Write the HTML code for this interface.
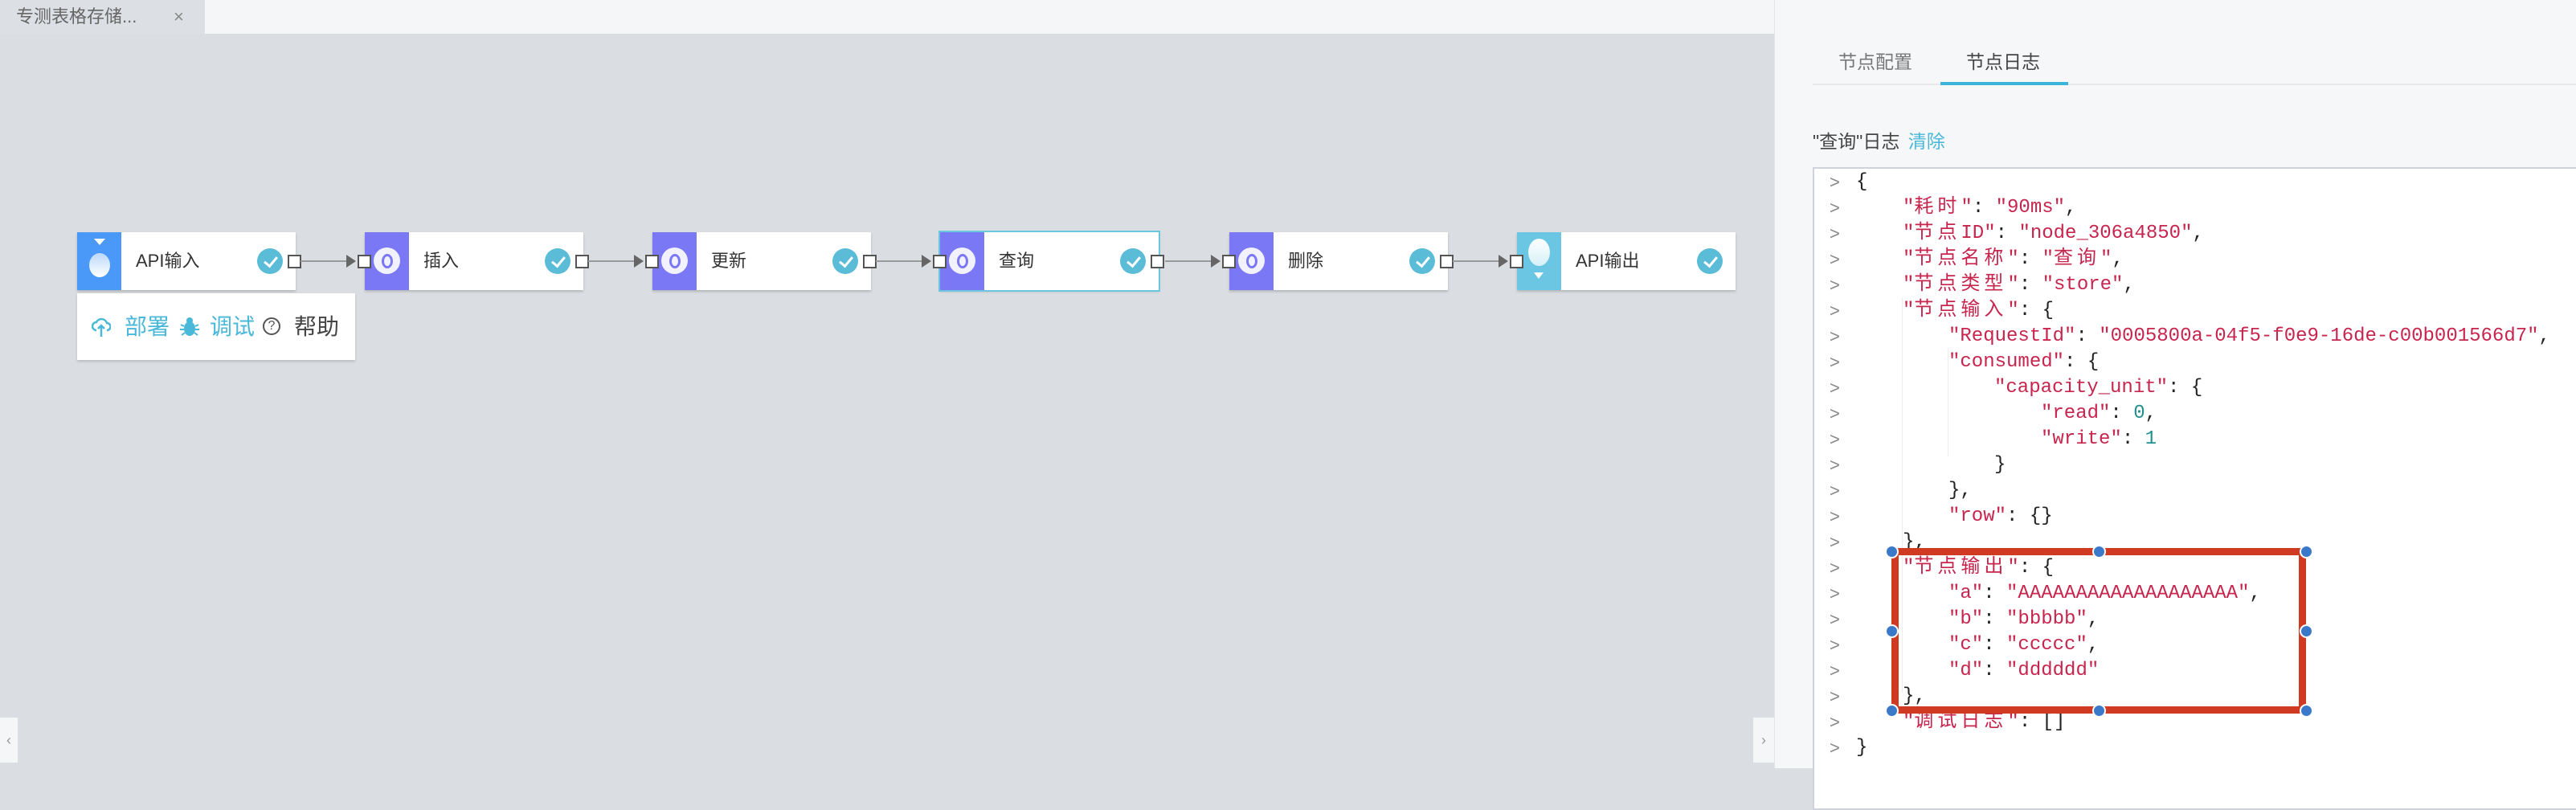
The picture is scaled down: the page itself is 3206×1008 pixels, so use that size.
<!DOCTYPE html>
<html><head><meta charset="utf-8">
<style>
*{margin:0;padding:0;box-sizing:border-box}
body{width:3206px;height:956px;overflow:hidden;background:#dadde1;font-family:"Liberation Sans","Noto Sans CJK SC",sans-serif;position:relative}
.abs{position:absolute}
.node{position:absolute;top:289px;width:272px;height:72px;background:#fff;box-shadow:0 2px 3px rgba(0,0,0,.18)}
.strip{position:absolute;left:0;top:0;width:55px;height:72px;background:#7a78f5}
.ring{position:absolute;left:11px;top:19px;width:33px;height:33px;border-radius:50%;background:#f2f2ff}
.ring:after{content:"";position:absolute;left:10px;top:8px;width:8px;height:12px;border:3px solid #7a78f5;border-radius:50%}
.lbl{position:absolute;left:73px;top:0;line-height:72px;font-size:22px;color:#333}
.chk{position:absolute;left:224px;top:20px;width:32px;height:32px;border-radius:50%;background:#5bbcd8}
.chk:after{content:"";position:absolute;left:12px;top:7px;width:7px;height:13px;border:solid #fff;border-width:0 3px 3px 0;transform:rotate(40deg)}
.port{position:absolute;width:17px;height:17px;background:#fff;border:2px solid #555;top:28px}
.line{position:absolute;height:2px;background:#9a9a9a;top:324px}
.arr{position:absolute;top:317px;width:0;height:0;border-top:8px solid transparent;border-bottom:8px solid transparent;border-left:12px solid #666}
.code{position:absolute;left:2256px;top:208px;width:1000px;height:800px;background:#fff;border:2px solid #cfd2d6}
.ln{position:absolute;left:0;height:32px;line-height:32px;font-family:"Liberation Mono","Noto Sans CJK SC",monospace;font-size:24px;white-space:pre;color:#222}
.g{position:absolute;left:2277px;color:#888;font-family:"Liberation Sans",sans-serif;font-size:22px;line-height:32px}
.s{color:#c7254e}.n{color:#1f8f8f}
.c{letter-spacing:5px}
.h{position:absolute;width:17px;height:17px;border-radius:50%;background:#3a78c9;border:2px solid #fff}
</style></head><body>
<div class="abs" style="left:0;top:0;width:2208px;height:42px;background:#f5f6f8"></div>
<div class="abs" style="left:0;top:0;width:255px;height:42px;background:#dcdfe3;color:#666;font-size:22px;line-height:42px;padding-left:20px">专测表格存储...<span style="position:absolute;left:216px;color:#888">×</span></div>

<div class="node" style="left:96px"><div class="strip" style="background:#4a98f7">
<div class="abs" style="left:15px;top:26px;width:26px;height:30px;border-radius:50%;background:linear-gradient(#bcd8fb,#fff)"></div>
<div class="abs" style="left:21px;top:8px;border-left:7px solid transparent;border-right:7px solid transparent;border-top:8px solid #fff"></div></div>
<div class="lbl">API输入</div><div class="chk"></div><div class="port" style="left:262px"></div></div>

<div class="line" style="left:374px;width:60px"></div><div class="arr" style="left:431px"></div>
<div class="node" style="left:454px"><div class="strip"><div class="ring"></div></div><div class="lbl">插入</div><div class="chk"></div><div class="port" style="left:-9px"></div><div class="port" style="left:262px"></div></div>

<div class="line" style="left:732px;width:60px"></div><div class="arr" style="left:789px"></div>
<div class="node" style="left:812px"><div class="strip"><div class="ring"></div></div><div class="lbl">更新</div><div class="chk"></div><div class="port" style="left:-9px"></div><div class="port" style="left:262px"></div></div>

<div class="line" style="left:1090px;width:60px"></div><div class="arr" style="left:1147px"></div>
<div class="node" style="left:1170px;outline:2px solid #6cc6de"><div class="strip"><div class="ring"></div></div><div class="lbl">查询</div><div class="chk"></div><div class="port" style="left:-9px"></div><div class="port" style="left:262px"></div></div>

<div class="line" style="left:1450px;width:60px"></div><div class="arr" style="left:1507px"></div>
<div class="node" style="left:1530px"><div class="strip"><div class="ring"></div></div><div class="lbl">删除</div><div class="chk"></div><div class="port" style="left:-9px"></div><div class="port" style="left:262px"></div></div>

<div class="line" style="left:1808px;width:60px"></div><div class="arr" style="left:1865px"></div>
<div class="node" style="left:1888px"><div class="strip" style="background:#6ac6e2">
<div class="abs" style="left:14px;top:8px;width:27px;height:34px;border-radius:50%;background:linear-gradient(#fff,#d6f0f8)"></div>
<div class="abs" style="left:21px;top:50px;border-left:6px solid transparent;border-right:6px solid transparent;border-top:8px solid #fff"></div></div>
<div class="lbl">API输出</div><div class="chk"></div><div class="port" style="left:-9px"></div></div>

<div class="abs" style="left:96px;top:365px;width:346px;height:83px;background:#fff;box-shadow:0 2px 3px rgba(0,0,0,.15);font-size:28px;line-height:83px;white-space:nowrap">
<svg class="abs" style="left:18px;top:29px" width="24" height="26" viewBox="0 0 24 26"><path d="M6 17 A5 5 0 0 1 6 7 A7 7 0 0 1 19 8 A4.5 4.5 0 0 1 19 17" fill="none" stroke="#4ab8d8" stroke-width="2.5"/><path d="M12 25 V11 M8 15 L12 11 L16 15" fill="none" stroke="#4ab8d8" stroke-width="2.5"/></svg>
<span class="abs" style="left:59px;color:#4ab8d8">部署</span>
<svg class="abs" style="left:127px;top:29px" width="26" height="26" viewBox="0 0 26 26"><ellipse cx="13" cy="15" rx="7" ry="9" fill="#4ab8d8"/><circle cx="13" cy="5" r="4" fill="#4ab8d8"/><path d="M2 10 L6 12 M24 10 L20 12 M1 16 H6 M25 16 H20 M3 23 L7 20 M23 23 L19 20" stroke="#4ab8d8" stroke-width="2"/></svg>
<span class="abs" style="left:165px;color:#4ab8d8">调试</span>
<span class="abs" style="left:231px;top:30px;width:22px;height:22px;border:2px solid #555;border-radius:50%;font-size:16px;line-height:18px;text-align:center;color:#555">?</span>
<span class="abs" style="left:270px;color:#444">帮助</span>
</div>

<div class="abs" style="left:0;top:893px;width:22px;height:56px;background:#f5f6f8;color:#999;font-size:18px;line-height:56px;text-align:center">‹</div>
<div class="abs" style="left:2182px;top:893px;width:26px;height:56px;background:#f5f6f8;color:#999;font-size:18px;line-height:56px;text-align:center">›</div>

<div class="abs" style="left:2208px;top:0;width:998px;height:956px;background:#f6f7f9;border-left:1px solid #e3e5e8"></div>
<div class="abs" style="left:2288px;top:58px;font-size:23px;color:#777">节点配置</div>
<div class="abs" style="left:2447px;top:58px;font-size:23px;color:#444">节点日志</div>
<div class="abs" style="left:2256px;top:104px;width:950px;height:2px;background:#e6e8eb"></div>
<div class="abs" style="left:2415px;top:102px;width:159px;height:4px;background:#3cb4d8"></div>
<div class="abs" style="left:2256px;top:157px;font-size:23px;color:#444">"查询"日志 <span style="color:#4ab8d8;margin-left:4px">清除</span></div>

<div class="code"></div>
<div class="abs" style="left:2367px;top:370px;width:1px;height:492px;background:#eee"></div>
<div class="abs" style="left:2424px;top:434px;width:1px;height:134px;background:#eee"></div>

<div class="g" style="top:211px">&gt;</div><div class="g" style="top:243px">&gt;</div><div class="g" style="top:275px">&gt;</div><div class="g" style="top:307px">&gt;</div><div class="g" style="top:339px">&gt;</div><div class="g" style="top:371px">&gt;</div><div class="g" style="top:403px">&gt;</div><div class="g" style="top:435px">&gt;</div><div class="g" style="top:467px">&gt;</div><div class="g" style="top:499px">&gt;</div><div class="g" style="top:531px">&gt;</div><div class="g" style="top:563px">&gt;</div><div class="g" style="top:595px">&gt;</div><div class="g" style="top:627px">&gt;</div><div class="g" style="top:659px">&gt;</div><div class="g" style="top:691px">&gt;</div><div class="g" style="top:723px">&gt;</div><div class="g" style="top:755px">&gt;</div><div class="g" style="top:787px">&gt;</div><div class="g" style="top:819px">&gt;</div><div class="g" style="top:851px">&gt;</div><div class="g" style="top:883px">&gt;</div><div class="g" style="top:915px">&gt;</div>

<div class="ln" style="left:2310px;top:211px">{</div>
<div class="ln" style="left:2368px;top:243px"><span class="s">"<span class="c">耗时</span>"</span>: <span class="s">"90ms"</span>,</div>
<div class="ln" style="left:2368px;top:275px"><span class="s">"<span class="c">节点</span>ID"</span>: <span class="s">"node_306a4850"</span>,</div>
<div class="ln" style="left:2368px;top:307px"><span class="s">"<span class="c">节点名称</span>"</span>: <span class="s">"<span class="c">查询</span>"</span>,</div>
<div class="ln" style="left:2368px;top:339px"><span class="s">"<span class="c">节点类型</span>"</span>: <span class="s">"store"</span>,</div>
<div class="ln" style="left:2368px;top:371px"><span class="s">"<span class="c">节点输入</span>"</span>: {</div>
<div class="ln" style="left:2425px;top:403px"><span class="s">"RequestId"</span>: <span class="s">"0005800a-04f5-f0e9-16de-c00b001566d7"</span>,</div>
<div class="ln" style="left:2425px;top:435px"><span class="s">"consumed"</span>: {</div>
<div class="ln" style="left:2482px;top:467px"><span class="s">"capacity_unit"</span>: {</div>
<div class="ln" style="left:2540px;top:499px"><span class="s">"read"</span>: <span class="n">0</span>,</div>
<div class="ln" style="left:2540px;top:531px"><span class="s">"write"</span>: <span class="n">1</span></div>
<div class="ln" style="left:2482px;top:563px">}</div>
<div class="ln" style="left:2425px;top:595px">},</div>
<div class="ln" style="left:2425px;top:627px"><span class="s">"row"</span>: {}</div>
<div class="ln" style="left:2368px;top:659px">},</div>
<div class="ln" style="left:2368px;top:691px"><span class="s">"<span class="c">节点输出</span>"</span>: {</div>
<div class="ln" style="left:2425px;top:723px"><span class="s">"a"</span>: <span class="s">"AAAAAAAAAAAAAAAAAAA"</span>,</div>
<div class="ln" style="left:2425px;top:755px"><span class="s">"b"</span>: <span class="s">"bbbbb"</span>,</div>
<div class="ln" style="left:2425px;top:787px"><span class="s">"c"</span>: <span class="s">"ccccc"</span>,</div>
<div class="ln" style="left:2425px;top:819px"><span class="s">"d"</span>: <span class="s">"dddddd"</span></div>
<div class="ln" style="left:2368px;top:851px">},</div>
<div class="ln" style="left:2368px;top:883px"><span class="s">"<span class="c">调试日志</span>"</span>: []</div>
<div class="ln" style="left:2310px;top:915px">}</div>

<div class="abs" style="left:2354px;top:682px;width:516px;height:206px;border:9px solid #d13a22"></div>
<div class="h" style="left:2346px;top:678px"></div><div class="h" style="left:2604px;top:678px"></div><div class="h" style="left:2862px;top:678px"></div>
<div class="h" style="left:2346px;top:777px"></div><div class="h" style="left:2862px;top:777px"></div>
<div class="h" style="left:2346px;top:876px"></div><div class="h" style="left:2604px;top:876px"></div><div class="h" style="left:2862px;top:876px"></div>
</body></html>
